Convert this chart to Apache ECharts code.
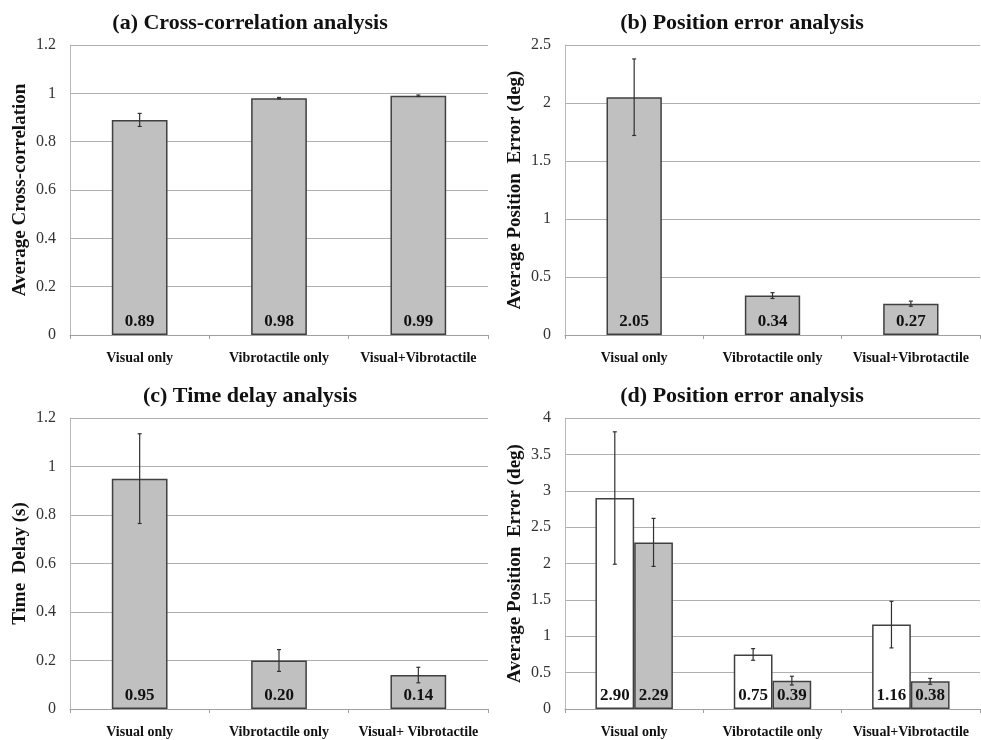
<!DOCTYPE html>
<html>
<head>
<meta charset="utf-8">
<script src="https://cdn.jsdelivr.net/npm/echarts@6/dist/echarts.min.js"></script>
<style>
html,body{margin:0;padding:0;background:#fff;}
#chart{width:981px;height:740px;}
</style>
</head>
<body>
<div id="chart"></div>
<script>
// ---- data ----
var categoriesAB = ['Visual only', 'Vibrotactile only', 'Visual+Vibrotactile'];
var categoriesC = ['Visual only', 'Vibrotactile only', 'Visual+ Vibrotactile'];
var crossCorr = [0.89, 0.98, 0.99];
var crossCorrErr = [0.027, 0.003, 0.003];
var posErr = [2.05, 0.34, 0.27];
var posErrErr = [0.33, 0.025, 0.022];
var timeDelay = [0.95, 0.20, 0.14];
var timeDelayErr = [0.185, 0.045, 0.032];
var posErrD1 = [2.90, 0.75, 1.16];
var posErrD1Err = [0.91, 0.08, 0.32];
var posErrD2 = [2.29, 0.39, 0.38];
var posErrD2Err = [0.33, 0.06, 0.04];
var titles = ['(a) Cross-correlation analysis', '(b) Position error analysis', '(c) Time delay analysis', '(d) Position error analysis'];
var yNames = ['Average Cross-correlation', 'Average Position  Error (deg)', 'Time  Delay (s)', 'Average Position  Error (deg)'];

// ---- style ----
var FONT = "'Liberation Serif','Times New Roman',serif";
var GRAY = '#c0c0c0';
var EDGE = '#404040';

var grids = [
  {left: 70, top: 45, width: 418, height: 290},
  {left: 565, top: 45, width: 415, height: 290},
  {left: 70, top: 418, width: 418, height: 291},
  {left: 565, top: 418, width: 415, height: 291}
];
var yRanges = [[0, 1.2, 0.2], [0, 2.5, 0.5], [0, 1.2, 0.2], [0, 4, 0.5]];
var cats = [categoriesAB, categoriesAB, categoriesC, categoriesAB];

function xAxisFor(i) {
  return {
    type: 'category', gridIndex: i, data: cats[i],
    axisLine: {lineStyle: {color: '#a0a0a0', width: 1}},
    axisTick: {show: true, length: 4, lineStyle: {color: '#a0a0a0'}},
    axisLabel: {fontFamily: FONT, fontWeight: 'bold', fontSize: 14, color: '#111', margin: 16, interval: 0}
  };
}
function yAxisFor(i) {
  return {
    type: 'value', gridIndex: i, min: yRanges[i][0], max: yRanges[i][1], interval: yRanges[i][2],
    name: yNames[i], nameLocation: 'middle', nameGap: 40, nameRotate: 90,
    nameTextStyle: {fontFamily: FONT, fontWeight: 'bold', fontSize: 19, color: '#111'},
    axisLine: {show: true, lineStyle: {color: '#b8b8b8'}},
    axisTick: {show: false},
    axisLabel: {fontFamily: FONT, fontSize: 16, color: '#333', margin: 14},
    splitLine: {lineStyle: {color: '#b0b0b0', width: 1}}
  };
}
function barSeries(i, vals, color, width, gap) {
  return {
    type: 'bar', xAxisIndex: i, yAxisIndex: i, data: vals,
    barWidth: width, barGap: gap || '0%',
    itemStyle: {color: color, borderColor: EDGE, borderWidth: 1.5},
    label: {show: true, position: 'insideBottom', distance: 5,
      fontFamily: FONT, fontWeight: 'bold', fontSize: 17, color: '#111',
      formatter: function (p) { return p.value.toFixed(2); }},
    z: 2
  };
}
function errSeries(i, vals, errs, offsetFrac) {
  var data = vals.map(function (v, k) { return [k, v, errs[k]]; });
  return {
    type: 'custom', xAxisIndex: i, yAxisIndex: i, data: data, z: 5,
    renderItem: function (params, api) {
      var x = api.value(0), y = api.value(1), e = api.value(2);
      var top = api.coord([x, y + e]);
      var bot = api.coord([x, y - e]);
      var off = api.size([1, 0])[0] * offsetFrac;
      var cx = top[0] + off;
      var st = {stroke: '#303030', lineWidth: 1.2};
      var hw = 2;
      return {type: 'group', children: [
        {type: 'line', shape: {x1: cx, y1: top[1], x2: cx, y2: bot[1]}, style: st},
        {type: 'line', shape: {x1: cx - hw, y1: top[1], x2: cx + hw, y2: top[1]}, style: st},
        {type: 'line', shape: {x1: cx - hw, y1: bot[1], x2: cx + hw, y2: bot[1]}, style: st}
      ]};
    }
  };
}

var option = {
  backgroundColor: '#fff',
  animation: false,
  title: [
    {text: titles[0], left: 245, top: 7, textAlign: 'center'},
    {text: titles[1], left: 737, top: 7, textAlign: 'center'},
    {text: titles[2], left: 245, top: 380, textAlign: 'center'},
    {text: titles[3], left: 737, top: 380, textAlign: 'center'}
  ].map(function (t) {
    t.textStyle = {fontFamily: FONT, fontWeight: 'bold', fontSize: 22, color: '#111'};
    return t;
  }),
  grid: grids,
  xAxis: [0, 1, 2, 3].map(xAxisFor),
  yAxis: [0, 1, 2, 3].map(yAxisFor),
  series: [
    barSeries(0, crossCorr, GRAY, '40%'),
    errSeries(0, crossCorr, crossCorrErr, 0),
    barSeries(1, posErr, GRAY, '40%'),
    errSeries(1, posErr, posErrErr, 0),
    barSeries(2, timeDelay, GRAY, '40%'),
    errSeries(2, timeDelay, timeDelayErr, 0),
    barSeries(3, posErrD1, '#ffffff', '28%', '0%'),
    barSeries(3, posErrD2, GRAY, '28%', '0%'),
    errSeries(3, posErrD1, posErrD1Err, -0.14),
    errSeries(3, posErrD2, posErrD2Err, 0.14)
  ]
};

var chart = echarts.init(document.getElementById('chart'), null, {renderer: 'canvas'});
chart.setOption(option);
</script>
</body>
</html>
